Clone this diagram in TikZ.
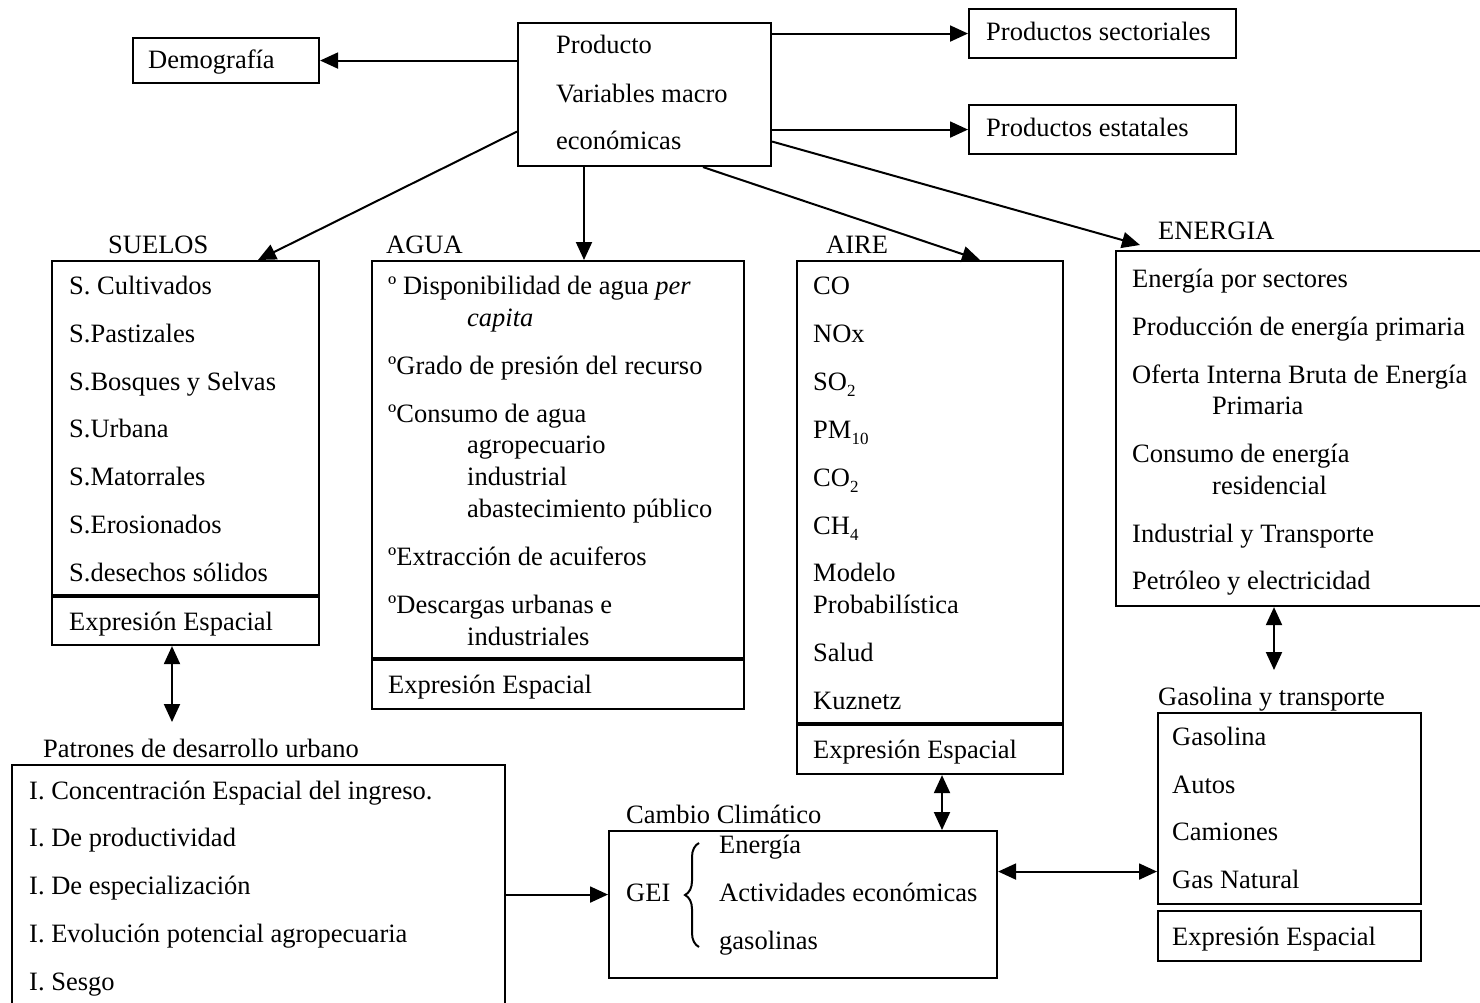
\documentclass[tikz,border=0pt]{standalone}
\usepackage{fontspec}
\setmainfont{Liberation Serif}
\usetikzlibrary{arrows.meta,decorations.pathreplacing,calc}
\newcommand{\sbs}[1]{\raisebox{-6pt}{\fontsize{17}{17}\selectfont #1}}
\begin{document}
\begin{tikzpicture}[x=1pt,y=-1pt,
  box/.style={draw, line width=2.1pt, inner sep=0pt, anchor=north west},
  txt/.style={anchor=base west, inner sep=0pt, font=\fontsize{26.5}{32}\selectfont},
  arr/.style={line width=2pt, -{Triangle[length=18pt,width=16pt]}},
  darr/.style={line width=2pt, {Triangle[length=18pt,width=16pt]}-{Triangle[length=18pt,width=16pt]}},
  divider/.style={line width=4pt},
  bracestyle/.style={decorate, decoration={brace, amplitude=14pt}, line width=2pt}]
\useasboundingbox (0,0) rectangle (1480,1003);

% boxes
\node[box, minimum width=186pt, minimum height=45pt] (demo) at (132,37) {};
\node[box, minimum width=253pt, minimum height=143pt] (prod) at (517,22) {};
\node[box, minimum width=267pt, minimum height=49pt] (ps) at (968,8) {};
\node[box, minimum width=267pt, minimum height=49pt] (pe) at (968,104) {};
\node[box, minimum width=267pt, minimum height=384pt] (suelos) at (51,260) {};
\node[box, minimum width=372pt, minimum height=448pt] (agua) at (371,260) {};
\node[box, minimum width=266pt, minimum height=513pt] (aire) at (796,260) {};
\node[box, minimum width=380pt, minimum height=355pt] (energia) at (1115,250) {};
\node[box, minimum width=263pt, minimum height=191pt] (gas) at (1157,712) {};
\node[box, minimum width=263pt, minimum height=50pt] (gasexp) at (1157,910) {};
\node[box, minimum width=493pt, minimum height=260pt] (pat) at (11,764) {};
\node[box, minimum width=388pt, minimum height=147pt] (cambio) at (608,830) {};

% dividers
\draw[divider] ([yshift=-336pt]suelos.north west) -- ([yshift=-336pt]suelos.north east);
\draw[divider] ([yshift=-399pt]agua.north west) -- ([yshift=-399pt]agua.north east);
\draw[divider] ([yshift=-464pt]aire.north west) -- ([yshift=-464pt]aire.north east);

% top texts
\node[txt] (tdemo) at (148,69) {Demografía};
\node[txt] (tp1) at (556,54) {Producto};
\node[txt] (tp2) at (556,103) {Variables macro};
\node[txt] (tp3) at (556,150) {económicas};
\node[txt] (tps) at (986,41) {Productos sectoriales};
\node[txt] (tpe) at (986,137) {Productos estatales};

% titles
\node[txt] (hsuelos) at (108,253) {SUELOS};
\node[txt] (hagua) at (386,253) {AGUA};
\node[txt] (haire) at (826,253) {AIRE};
\node[txt] (henergia) at (1158,240) {ENERGIA};
\node[txt] (hgas) at (1158,705) {Gasolina y transporte};
\node[txt] (hpat) at (43,757) {Patrones de desarrollo urbano};
\node[txt] (hcambio) at (626,823) {Cambio Climático};

% SUELOS
\node[txt] (s1) at (69,294) {S. Cultivados};
\node[txt] (s2) at (69,342) {S.Pastizales};
\node[txt] (s3) at (69,390) {S.Bosques y Selvas};
\node[txt] (s4) at (69,437) {S.Urbana};
\node[txt] (s5) at (69,485) {S.Matorrales};
\node[txt] (s6) at (69,533) {S.Erosionados};
\node[txt] (s7) at (69,581) {S.desechos sólidos};
\node[txt] (s8) at (69,630) {Expresión Espacial};

% AGUA
\node[txt] (a1) at (388,294) {º Disponibilidad de agua \textit{per}};
\node[txt] (a2) at (467,326) {\textit{capita}};
\node[txt] (a3) at (388,374) {ºGrado de presión del recurso};
\node[txt] (a4) at (388,422) {ºConsumo de agua};
\node[txt] (a5) at (467,453) {agropecuario};
\node[txt] (a6) at (467,485) {industrial};
\node[txt] (a7) at (467,517) {abastecimiento público};
\node[txt] (a8) at (388,565) {ºExtracción de acuiferos};
\node[txt] (a9) at (388,613) {ºDescargas urbanas e};
\node[txt] (a10) at (467,645) {industriales};
\node[txt] (a11) at (388,693) {Expresión Espacial};

% AIRE
\node[txt] (r1) at (813,294) {CO};
\node[txt] (r2) at (813,342) {NOx};
\node[txt] (r3) at (813,390) {SO\sbs{2}};
\node[txt] (r4) at (813,438) {PM\sbs{10}};
\node[txt] (r5) at (813,486) {CO\sbs{2}};
\node[txt] (r6) at (813,534) {CH\sbs{4}};
\node[txt] (r7) at (813,581) {Modelo};
\node[txt] (r8) at (813,613) {Probabilística};
\node[txt] (r9) at (813,661) {Salud};
\node[txt] (r10) at (813,709) {Kuznetz};
\node[txt] (r11) at (813,758) {Expresión Espacial};

% ENERGIA
\node[txt] (e1) at (1132,287) {Energía por sectores};
\node[txt] (e2) at (1132,335) {Producción de energía primaria};
\node[txt] (e3) at (1132,383) {Oferta Interna Bruta de Energía};
\node[txt] (e4) at (1212,414) {Primaria};
\node[txt] (e5) at (1132,462) {Consumo de energía};
\node[txt] (e6) at (1212,494) {residencial};
\node[txt] (e7) at (1132,542) {Industrial y Transporte};
\node[txt] (e8) at (1132,589) {Petróleo y electricidad};

% Gasolina
\node[txt] (g1) at (1172,745) {Gasolina};
\node[txt] (g2) at (1172,793) {Autos};
\node[txt] (g3) at (1172,840) {Camiones};
\node[txt] (g4) at (1172,888) {Gas Natural};
\node[txt] (g5) at (1172,945) {Expresión Espacial};

% Patrones
\node[txt] (p1) at (29,799) {I. Concentración Espacial del ingreso.};
\node[txt] (p2) at (29,846) {I. De productividad};
\node[txt] (p3) at (29,894) {I. De especialización};
\node[txt] (p4) at (29,942) {I. Evolución potencial agropecuaria};
\node[txt] (p5) at (29,990) {I. Sesgo};

% Cambio
\node[txt] (c0) at (626,901) {GEI};
\node[txt] (c1) at (719,853) {Energía};
\node[txt] (c2) at (719,901) {Actividades económicas};
\node[txt] (c3) at (719,949) {gasolinas};
\draw[bracestyle] (699,947) -- (699,843);

% connectors
\draw[arr] (prod.west |- demo.east) -- (demo.east);
\draw[arr] (prod.east |- ps.west) -- (ps.west);
\draw[arr] (prod.east |- pe.west) -- (pe.west);
\draw[arr] ([yshift=-37pt]prod.west) -- ([xshift=207pt]suelos.north west);
\draw[arr] ([xshift=67pt]prod.south west) -- ([xshift=67pt]prod.south west |- agua.north);
\draw[arr] ([xshift=186pt]prod.south west) -- ([xshift=184pt]aire.north west);
\draw[arr] ([yshift=-47pt]prod.east) -- ([xshift=25pt,yshift=5pt]energia.north west);

\draw[darr] ([xshift=121pt]suelos.south west) -- ([xshift=161pt,yshift=42pt]pat.north west);
\draw[darr] ([xshift=146pt]aire.south west) -- ([xshift=334pt]cambio.north west);
\draw[darr] ([xshift=159pt]energia.south west) -- ([xshift=117pt,yshift=42pt]gas.north west);
\draw[darr] ([yshift=33pt]cambio.east) -- ([yshift=33pt]cambio.east -| gas.west);
\draw[arr] ([yshift=10pt]cambio.west -| pat.east) -- ([yshift=10pt]cambio.west);
\end{tikzpicture}
\end{document}
